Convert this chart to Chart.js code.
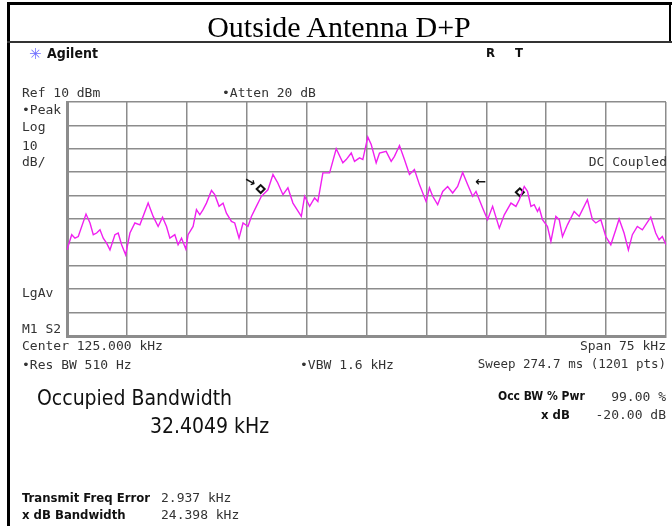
<!DOCTYPE html>
<html lang="en">
<head>
<meta charset="UTF-8">
<title>Outside Antenna D+P</title>
<script src="https://cdn.jsdelivr.net/npm/chart.js"></script>
<style>
  html, body { margin: 0; padding: 0; background: #fff; }
  #wrap { position: relative; width: 672px; height: 526px; overflow: hidden; }
  canvas { position: absolute; left: 0; top: 0; }
  .ln { position: absolute; background: #000; }
  .t { position: absolute; white-space: nowrap; color: #333; line-height: 1; }
  .m { font-family: 'DejaVu Sans Mono', monospace; font-size: 13px; font-stretch: condensed; }
  .b { font-family: 'DejaVu Sans', sans-serif; font-stretch: condensed; font-weight: bold; font-size: 13px; color: #111; }
  .big { font-family: 'DejaVu Sans', sans-serif; font-stretch: condensed; font-size: 21px; color: #111; }
  .r { text-align: right; }
</style>
</head>
<body>
<div id="wrap">
  <canvas id="sa" width="672" height="526"></canvas>

  <div class="ln" style="left:7px;top:2px;width:3px;height:524px"></div>
  <div class="ln" style="left:7px;top:2px;width:665px;height:3px"></div>
  <div class="ln" style="left:669px;top:2px;width:2px;height:41px"></div>
  <div class="ln" style="left:7px;top:41px;width:665px;height:2px;background:#333"></div>

  <div class="t" style="left:8px;width:662px;top:10px;text-align:center;font:30px 'Liberation Serif',serif;color:#000">Outside Antenna D+P</div>

  <div class="t" style="left:29px;top:45px;font:15px 'DejaVu Sans',sans-serif;color:#6d6dff">✳</div>
  <div class="t b" style="left:47px;top:46px;font-size:14px">Agilent</div>
  <div class="t b" style="left:486px;top:46px;font-size:13px">R</div>
  <div class="t b" style="left:515px;top:46px;font-size:13px">T</div>

  <div class="t m" style="left:22px;top:86px">Ref 10 dBm</div>
  <div class="t m" style="left:222px;top:86px">•Atten 20 dB</div>
  <div class="t m" style="left:22px;top:103px">•Peak</div>
  <div class="t m" style="left:22px;top:120px">Log</div>
  <div class="t m" style="left:22px;top:139px">10</div>
  <div class="t m" style="left:22px;top:155px">dB/</div>
  <div class="t m r" style="right:5px;top:155px">DC Coupled</div>
  <div class="t m" style="left:22px;top:286px">LgAv</div>
  <div class="t m" style="left:22px;top:322px">M1 S2</div>

  <div class="t m" style="left:22px;top:339px">Center 125.000 kHz</div>
  <div class="t m r" style="right:6px;top:339px">Span 75 kHz</div>
  <div class="t m" style="left:22px;top:358px">•Res BW 510 Hz</div>
  <div class="t m" style="left:300px;top:358px">•VBW 1.6 kHz</div>
  <div class="t m r" style="right:6px;top:358px;font-size:12.5px">Sweep 274.7 ms (1201 pts)</div>

  <div class="t big" style="left:37px;top:388px">Occupied Bandwidth</div>
  <div class="t big" style="left:150px;top:416px">32.4049 kHz</div>
  <div class="t b" style="left:498px;top:390px;font-size:12px">Occ BW % Pwr</div>
  <div class="t m r" style="right:6px;top:390px">99.00 %</div>
  <div class="t b" style="left:541px;top:408px">x dB</div>
  <div class="t m r" style="right:6px;top:408px">-20.00 dB</div>

  <div class="t b" style="left:22px;top:491px">Transmit Freq Error</div>
  <div class="t m" style="left:161px;top:491px">2.937 kHz</div>
  <div class="t b" style="left:22px;top:508px">x dB Bandwidth</div>
  <div class="t m" style="left:161px;top:508px">24.398 kHz</div>
</div>
<script>
// trace: frequency (kHz) and level (dBm)
const freqKHz = [
  87.5, 88.09, 88.5, 88.91, 89.88, 90.38, 90.79, 91.21, 91.63, 92.04,
  92.46, 92.88, 93.5, 93.91, 94.34, 94.84, 95.38, 96.0, 96.63, 97.66,
  98.29, 98.91, 99.46, 99.96, 100.38, 101.0, 101.41, 101.84, 102.38, 102.66,
  103.29, 103.71, 104.13, 104.54, 104.96, 105.59, 106.0, 106.54, 107.04, 107.46,
  108.09, 108.5, 109.04, 109.54, 110.16, 110.59, 111.21, 111.84, 112.66, 113.29,
  113.88, 114.54, 115.16, 115.79, 116.84, 117.25, 117.88, 118.5, 118.91, 119.54,
  120.38, 121.21, 122.04, 122.46, 123.09, 123.5, 124.13, 124.54, 125.16, 125.59,
  126.21, 126.63, 127.46, 128.09, 128.5, 129.13, 129.75, 130.38, 131.0, 131.63,
  132.46, 132.88, 133.29, 133.91, 134.54, 135.16, 135.79, 136.41, 137.04, 137.66,
  138.29, 138.71, 139.54, 140.16, 140.79, 141.63, 142.25, 143.09, 143.71, 144.13,
  144.75, 145.16, 145.59, 146.0, 146.41, 146.63, 147.04, 147.66, 148.09, 148.71,
  149.13, 149.54, 150.16, 151.0, 151.63, 152.66, 153.29, 153.71, 154.34, 154.96,
  155.59, 156.21, 156.63, 157.25, 157.79, 158.29, 158.91, 159.54, 160.59, 161.21,
  161.63, 162.04, 162.5
];
const levelDBm = [
  -53.2, -46.7, -48.2, -47.5, -37.9, -41.7, -46.7, -46.0, -44.6, -48.2,
  -50.3, -53.2, -46.7, -46.0, -51.0, -55.3, -46.0, -41.7, -42.5, -33.2,
  -38.9, -43.2, -39.2, -43.2, -48.2, -46.7, -51.0, -48.2, -52.9, -46.7,
  -43.2, -36.0, -38.2, -36.0, -33.2, -27.8, -29.6, -34.6, -33.2, -37.5,
  -41.0, -41.7, -48.2, -41.7, -43.2, -38.9, -34.6, -30.3, -27.5, -21.0,
  -24.5, -29.6, -26.7, -33.2, -38.9, -30.3, -34.6, -31.0, -32.5, -20.3,
  -20.3, -10.0, -16.0, -14.6, -11.8, -15.4, -13.9, -14.6, -4.9, -8.2,
  -16.0, -11.8, -11.1, -15.4, -13.2, -8.6, -14.6, -21.0, -18.9, -25.3,
  -32.5, -26.7, -30.3, -33.9, -28.2, -26.1, -28.9, -26.1, -20.1, -25.3,
  -30.3, -28.2, -35.3, -40.3, -34.6, -43.9, -38.2, -33.2, -34.6, -31.8,
  -26.1, -28.2, -34.6, -33.9, -36.8, -35.3, -40.3, -43.2, -49.6, -38.9,
  -40.3, -47.5, -42.5, -36.8, -38.9, -31.8, -40.3, -41.7, -40.3, -47.5,
  -51.0, -44.6, -40.0, -46.0, -53.2, -46.7, -43.2, -44.6, -39.2, -46.0,
  -48.9, -47.5, -51.0
];

// occupied-bandwidth markers
const markerFreq = [111.75, 144.2];
const markerLevel = [-27.2, -28.6];
const arrowFreq = [110.4, 139.3];
const arrowLevel = [-24.3, -24.3];
const arrowText = ['→', '←'];

// graticule: 10 divisions each way
const xTicks = [87.5, 95, 102.5, 110, 117.5, 125, 132.5, 140, 147.5, 155, 162.5];
const yTicks = [10, 0, -10, -20, -30, -40, -50, -60, -70, -80, -90];

const arrows = {
  id: 'arrows',
  afterDatasetsDraw(chart) {
    const { ctx, scales: { x, y } } = chart;
    ctx.save();
    ctx.fillStyle = '#111';
    ctx.font = 'bold 13px "DejaVu Sans"';
    ctx.textAlign = 'center';
    ctx.textBaseline = 'middle';
    arrowText.forEach((s, i) => {
      const px = x.getPixelForValue(arrowFreq[i]);
      const py = y.getPixelForValue(arrowLevel[i]);
      ctx.save();
      ctx.translate(px, py);
      if (i === 0) ctx.rotate(0.5);
      ctx.fillText(s, 0, 0);
      ctx.restore();
    });
    ctx.restore();
  }
};

const ctx = document.getElementById('sa').getContext('2d');
new Chart(ctx, {
  type: 'scatter',
  data: {
    datasets: [
      {
        data: freqKHz.map((f, i) => ({ x: f, y: levelDBm[i] })),
        showLine: true,
        borderColor: '#f020f0',
        borderWidth: 1.4,
        pointRadius: 0,
        tension: 0
      },
      {
        data: markerFreq.map((f, i) => ({ x: f, y: markerLevel[i] })),
        pointStyle: 'rectRot',
        pointRadius: 4,
        borderColor: '#111',
        borderWidth: 2,
        backgroundColor: '#fff'
      }
    ]
  },
  options: {
    responsive: false,
    animation: false,
    layout: { padding: { left: 67, top: 102, right: 5, bottom: 190 } },
    plugins: { legend: { display: false }, tooltip: { enabled: false } },
    scales: {
      x: {
        type: 'linear',
        min: 87.5,
        max: 162.5,
        afterBuildTicks: s => { s.ticks = xTicks.map(v => ({ value: v })); },
        ticks: { display: false },
        grid: { color: '#8c8c8c', lineWidth: 1.5, drawTicks: false },
        border: { display: true, color: '#8c8c8c', width: 3 }
      },
      y: {
        min: -90,
        max: 10,
        afterBuildTicks: s => { s.ticks = yTicks.map(v => ({ value: v })); },
        ticks: { display: false },
        grid: { color: '#8c8c8c', lineWidth: 1.5, drawTicks: false },
        border: { display: true, color: '#8c8c8c', width: 3 }
      }
    }
  },
  plugins: [arrows]
});
</script>
</body>
</html>
